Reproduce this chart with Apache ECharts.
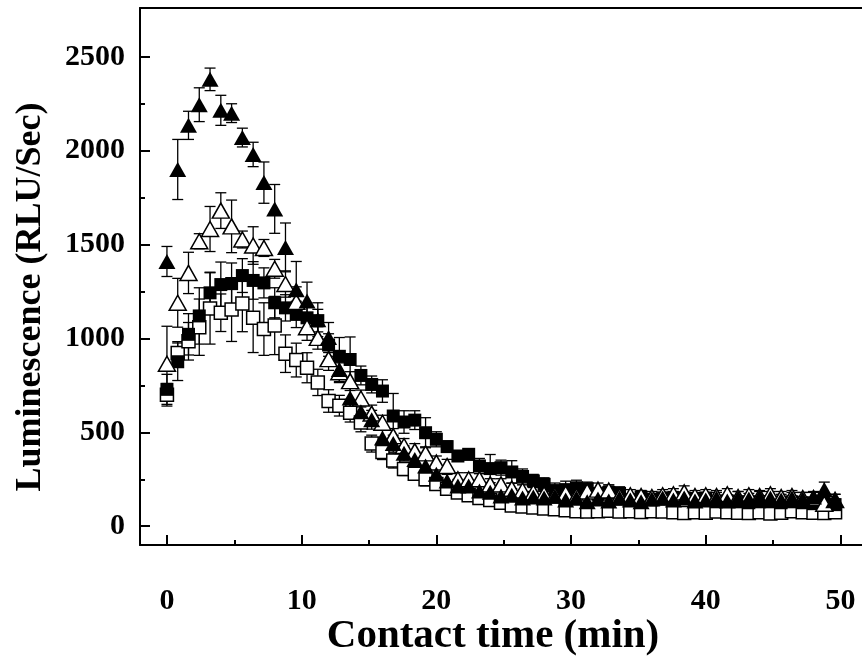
<!DOCTYPE html>
<html><head><meta charset="utf-8">
<script src="https://cdn.jsdelivr.net/npm/echarts@6/dist/echarts.min.js"></script>
<style>html,body{margin:0;padding:0;background:#fff}#c{width:862px;height:659px}</style>
</head><body><div id="c"></div>
<script>
const times = [0,0.8,1.6,2.4,3.2,4,4.8,5.6,6.4,7.2,8,8.8,9.6,10.4,11.2,12,12.8,13.6,14.4,15.2,16,16.8,17.6,18.4,19.2,20,20.8,21.6,22.4,23.2,24,24.8,25.6,26.4,27.2,28,28.8,29.6,30.4,31.2,32,32.8,33.6,34.4,35.2,36,36.8,37.6,38.4,39.2,40,40.8,41.6,42.4,43.2,44,44.8,45.6,46.4,47.2,48,48.8,49.6];

const filledTri = [1410,1900,2135,2245,2380,2215,2200,2070,1980,1830,1690,1485,1260,1200,1100,1005,835,683,610,567,470,440,388,356,321,277,241,214,214,188,181,161,165,150,155,150,160,140,150,130,145,135,150,140,130,145,150,140,150,135,140,150,135,150,145,155,150,140,150,145,155,195,140];
const filledTriErr = [80,160,75,90,60,80,50,50,65,110,130,130,150,100,90,80,70,60,60,50,50,45,40,40,40,35,35,35,30,30,30,30,35,30,30,35,30,30,35,30,30,35,30,30,35,30,30,35,30,30,35,30,30,35,30,30,35,30,30,35,30,40,30];

const openTri = [865,1190,1349,1518,1583,1681,1597,1527,1495,1482,1371,1290,1195,1060,1003,890,820,773,680,600,551,480,427,400,388,339,321,250,250,250,223,223,200,190,180,170,165,175,160,185,195,190,160,165,160,155,165,170,180,160,165,160,170,155,165,160,170,155,160,150,150,120,140];
const openTriErr = [200,130,110,40,120,95,140,45,100,45,50,70,80,70,60,60,50,50,45,45,40,40,40,40,35,35,35,35,35,30,30,30,30,30,30,30,30,30,30,30,35,30,30,30,30,30,30,30,35,30,30,30,30,30,30,30,30,30,30,30,30,30,30];

const filledSq = [729,876,1022,1120,1243,1287,1292,1335,1309,1296,1190,1163,1128,1110,1095,965,905,888,803,755,720,587,555,565,498,463,424,374,383,321,307,312,289,265,241,223,190,195,205,200,170,180,175,140,155,140,150,150,150,148,150,130,135,130,125,130,130,125,130,125,120,120,115];
const filledSqErr = [80,100,110,150,110,120,110,90,100,80,80,70,70,60,60,60,100,120,50,45,60,120,60,50,80,40,30,25,30,40,75,40,60,40,35,35,40,45,40,35,35,40,35,30,35,30,30,35,30,30,30,30,30,30,30,30,30,30,30,30,30,30,30];

const openSq = [700,923,985,1060,1160,1137,1154,1186,1110,1050,1069,919,885,844,766,667,642,605,553,440,395,350,305,280,250,225,200,180,165,150,140,125,110,105,100,95,90,85,80,78,80,82,78,80,76,80,78,75,70,74,72,78,75,72,70,74,68,72,80,75,72,70,74];
const openSqErr = [60,60,100,150,190,100,170,150,185,140,155,100,90,80,70,60,55,50,50,45,40,40,35,35,35,30,30,30,30,30,25,25,25,25,25,25,25,25,25,25,25,30,25,25,25,25,25,25,30,25,25,25,25,25,25,25,25,25,25,25,25,25,25];

const yMajor = [0,500,1000,1500,2000,2500];
const yMinor = [250,750,1250,1750,2250];
const xMajor = [0,10,20,30,40,50];
const xMinor = [5,15,25,35,45];

function pts(vals){ return times.map((t,i)=>[t, vals[i]]); }
function errs(vals, e){ return times.map((t,i)=>[t, vals[i]-e[i], vals[i]+e[i]]); }

function errRender(params, api){
  const x = api.value(0), lo = api.value(1), hi = api.value(2);
  const a = api.coord([x, hi]), b = api.coord([x, lo]);
  const w = 5.5;
  const st = {stroke:'#000', lineWidth:1.3};
  return {type:'group', children:[
    {type:'line', shape:{x1:a[0],y1:a[1],x2:b[0],y2:b[1]}, style:st},
    {type:'line', shape:{x1:a[0]-w,y1:a[1],x2:a[0]+w,y2:a[1]}, style:st},
    {type:'line', shape:{x1:b[0]-w,y1:b[1],x2:b[0]+w,y2:b[1]}, style:st}
  ]};
}

const font = 'Liberation Serif';
const plain = v => String(v);
const chart = echarts.init(document.getElementById('c'), null, {renderer:'canvas'});
const X = {min:-2, max:51.6};
const Y = {min:-100, max:2760};
chart.setOption({
  animation:false,
  backgroundColor:'#fff',
  grid:{left:140, top:8, width:724, height:537},
  xAxis:[
    {type:'value', position:'bottom', min:X.min, max:X.max, splitLine:{show:false},
     axisLine:{show:true, onZero:false, lineStyle:{color:'#000', width:2}},
     axisTick:{show:true, inside:true, length:10, lineStyle:{color:'#000', width:2}, customValues:xMajor},
     axisLabel:{show:true, customValues:xMajor, formatter:plain, margin:41, color:'#000', fontFamily:font, fontWeight:'bold', fontSize:30}},
    {type:'value', position:'bottom', min:X.min, max:X.max, splitLine:{show:false},
     axisLine:{show:false, onZero:false},
     axisTick:{show:true, inside:true, length:5, lineStyle:{color:'#000', width:2}, customValues:xMinor},
     axisLabel:{show:false}},
    {type:'value', position:'top', min:X.min, max:X.max, splitLine:{show:false},
     axisLine:{show:true, onZero:false, lineStyle:{color:'#000', width:2}},
     axisTick:{show:false}, axisLabel:{show:false}}
  ],
  yAxis:[
    {type:'value', position:'left', min:Y.min, max:Y.max, splitLine:{show:false},
     axisLine:{show:true, onZero:false, lineStyle:{color:'#000', width:2}},
     axisTick:{show:true, inside:true, length:10, lineStyle:{color:'#000', width:2}, customValues:yMajor},
     axisLabel:{show:true, customValues:yMajor, formatter:plain, margin:15, color:'#000', fontFamily:font, fontWeight:'bold', fontSize:30}},
    {type:'value', position:'left', min:Y.min, max:Y.max, splitLine:{show:false},
     axisLine:{show:false, onZero:false},
     axisTick:{show:true, inside:true, length:5, lineStyle:{color:'#000', width:2}, customValues:yMinor},
     axisLabel:{show:false}}
  ],
  graphic:[
    {type:'text', x:493, y:636, style:{text:'Contact time (min)', fill:'#000', font:'bold 41px "Liberation Serif"', textAlign:'center', textVerticalAlign:'middle'}},
    {type:'text', x:31, y:297, rotation:Math.PI/2, style:{text:'Luminescence (RLU/Sec)', fill:'#000', font:'bold 36px "Liberation Serif"', textAlign:'center', textVerticalAlign:'middle'}}
  ],
  series:[
    {type:'custom', renderItem:errRender, data:errs(openSq, openSqErr), encode:{x:0, y:[1,2]}},
    {type:'scatter', data:pts(openSq), symbol:'rect', symbolSize:13, itemStyle:{color:'#fff', borderColor:'#000', borderWidth:1.5, opacity:1}},
    {type:'custom', renderItem:errRender, data:errs(filledSq, filledSqErr), encode:{x:0, y:[1,2]}},
    {type:'scatter', data:pts(filledSq), symbol:'rect', symbolSize:13, itemStyle:{color:'#000', opacity:1}},
    {type:'custom', renderItem:errRender, data:errs(openTri, openTriErr), encode:{x:0, y:[1,2]}},
    {type:'scatter', data:pts(openTri), symbol:'triangle', symbolSize:[17,15], itemStyle:{color:'#fff', borderColor:'#000', borderWidth:1.5, opacity:1}},
    {type:'custom', renderItem:errRender, data:errs(filledTri, filledTriErr), encode:{x:0, y:[1,2]}},
    {type:'scatter', data:pts(filledTri), symbol:'triangle', symbolSize:[17,15], itemStyle:{color:'#000', opacity:1}}
  ]
});
</script></body></html>
